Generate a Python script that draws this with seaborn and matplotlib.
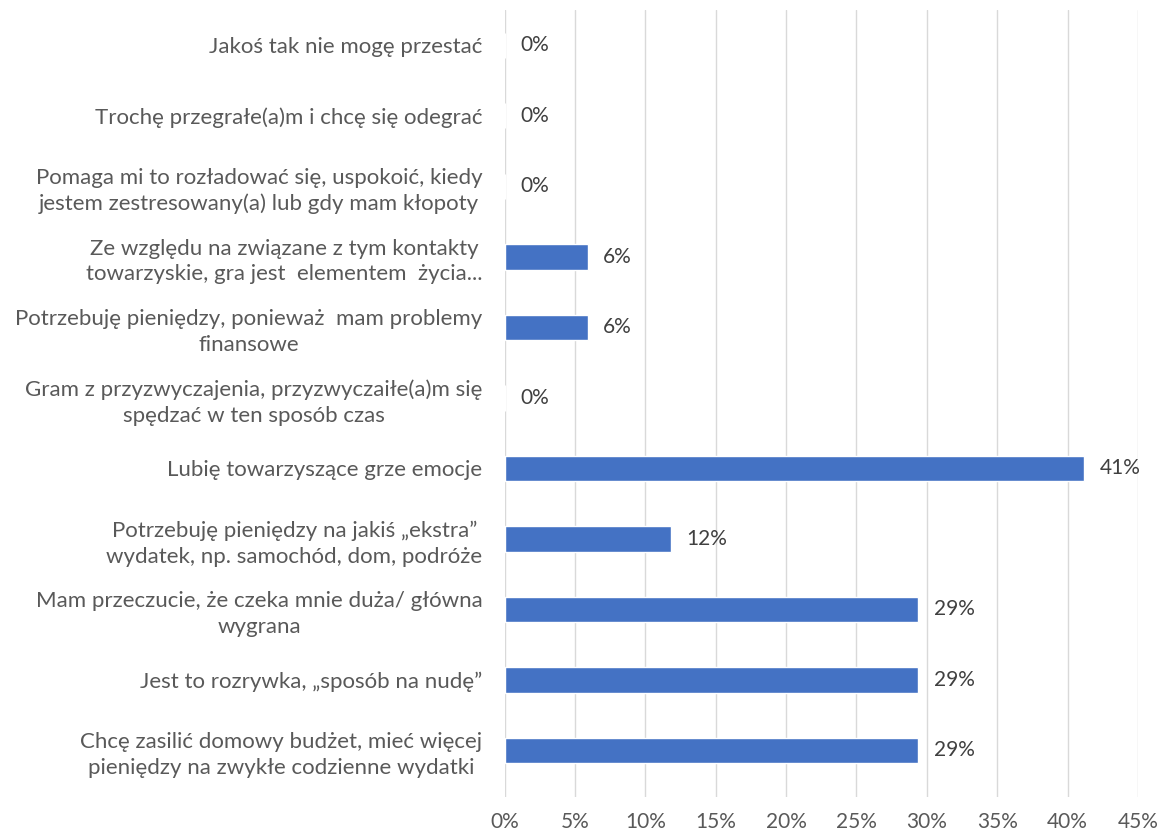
import matplotlib
matplotlib.use("Agg")
import matplotlib.pyplot as plt
import seaborn as sns
import pandas as pd

categories = [
    "Jakoś tak nie mogę przestać",
    "Trochę przegrałe(a)m i chcę się odegrać",
    "Pomaga mi to rozładować się, uspokoić, kiedy\njestem zestresowany(a) lub gdy mam kłopoty",
    "Ze względu na związane z tym kontakty\ntowarzyskie, gra jest  elementem  życia...",
    "Potrzebuję pieniędzy, ponieważ  mam problemy\nfinansowe",
    "Gram z przyzwyczajenia, przyzwyczaiłe(a)m się\nspędzać w ten sposób czas",
    "Lubię towarzyszące grze emocje",
    "Potrzebuję pieniędzy na jakiś „ekstra”\nwydatek, np. samochód, dom, podróże",
    "Mam przeczucie, że czeka mnie duża/ główna\nwygrana",
    "Jest to rozrywka, „sposób na nudę”",
    "Chcę zasilić domowy budżet, mieć więcej\npieniędzy na zwykłe codzienne wydatki",
]
values = [0, 0, 0, 5.9, 5.9, 0, 41.2, 11.8, 29.4, 29.4, 29.4]
xticks = [0, 5, 10, 15, 20, 25, 30, 35, 40, 45]

sns.set_theme(style="white")
plt.rcParams["font.family"] = ["Lato", "DejaVu Sans"]

df = pd.DataFrame({"cat": categories, "val": values})

fig = plt.figure(figsize=(11.6, 8.35), dpi=100)
ax = fig.add_axes([0.435, 0.0455, 0.546, 0.9425])

sns.barplot(data=df, y="cat", x="val", orient="h", color="#4472C4",
            width=0.36, saturation=1, ax=ax, order=categories)

ax.set_xlim(0, 45)
ax.set_ylim(10.66, -0.5)
ax.set_xticks(xticks)
ax.set_xticklabels([f"{t}%" for t in xticks])
ax.grid(axis="x", color="#d9d9d9", linewidth=1)
ax.set_axisbelow(True)
for s in ax.spines.values():
    s.set_visible(False)
ax.set_xlabel("")
ax.set_ylabel("")

ax.tick_params(axis="x", length=0, pad=11, labelsize=15, labelcolor="#595959")
ax.tick_params(axis="y", length=0, pad=16, labelsize=16, labelcolor="#595959")
for lab in ax.get_yticklabels():
    lab.set_multialignment("center")
    lab.set_linespacing(1.35)

ax.bar_label(ax.containers[0], labels=[f"{v:.0f}%" for v in values],
             padding=11, fontsize=15, color="#404040")

fig.savefig("out.png", dpi=100)
